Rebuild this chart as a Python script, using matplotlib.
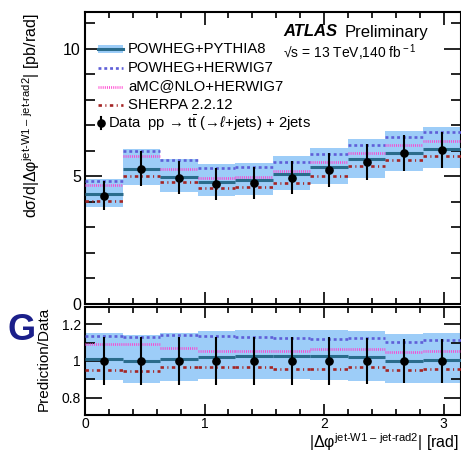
import matplotlib

matplotlib.use("Agg")
import matplotlib.pyplot as plt
from matplotlib.ticker import MultipleLocator
import numpy as np

# binning in |dphi| (10 equal bins from 0 to pi)
BIN_EDGES = np.linspace(0.0, np.pi, 11)

# measured cross-section [pb/rad] and relative uncertainty
DATA = [4.25, 5.31, 4.95, 4.70, 4.74, 4.96, 5.24, 5.56, 5.93, 6.05]
DATA_REL_ERR = [0.132, 0.132, 0.132, 0.132, 0.130, 0.128, 0.128, 0.125, 0.118, 0.118]

# prediction / data
RATIO_PP8 = [1.012, 0.998, 1.010, 1.020, 1.027, 1.027, 1.027, 1.022, 1.000, 1.005]
RATIO_PP8_HI = [1.150, 1.144, 1.150, 1.164, 1.168, 1.168, 1.168, 1.162, 1.146, 1.150]
RATIO_PP8_LO = [0.894, 0.880, 0.889, 0.901, 0.901, 0.901, 0.897, 0.890, 0.880, 0.880]
RATIO_PH7 = [1.137, 1.128, 1.140, 1.137, 1.132, 1.123, 1.119, 1.123, 1.101, 1.114]
RATIO_AMC = [1.094, 1.094, 1.072, 1.054, 1.054, 1.054, 1.063, 1.063, 1.050, 1.054]
RATIO_SHERPA = [0.950, 0.946, 0.970, 0.970, 0.970, 0.959, 0.959, 0.970, 0.950, 0.959]

LEGEND_LABELS = [
    "POWHEG+PYTHIA8",
    "POWHEG+HERWIG7",
    "aMC@NLO+HERWIG7",
    "SHERPA 2.2.12",
    "Data  pp → t$\\bar{\\rm t}$ (→$\\ell$+jets) + 2jets",
]

BAND_COLOR = "#9dcdf8"
PP8_COLOR = "#2a6c8c"
PH7_COLOR = "#5f5fd8"
AMC_COLOR = "#ff3fcf"
SHERPA_COLOR = "#a42424"

W, H = 461, 455

plt.rcParams.update(
    {
        "font.family": ["Liberation Sans", "DejaVu Sans"],
        "mathtext.fontset": "custom",
        "mathtext.rm": "Liberation Sans",
        "mathtext.it": "Liberation Sans:italic",
        "mathtext.bf": "Liberation Sans:bold",
        "axes.linewidth": 1.5,
    }
)


def fx(px):
    return px / W


def fy(py):
    return 1.0 - py / H


def style_axis(ax, ylen_major=9, ylen_minor=5, xlen_major=6, xlen_minor=3):
    ax.tick_params(which="both", direction="in", top=True, right=True, width=1.2)
    ax.tick_params(axis="y", which="major", length=ylen_major)
    ax.tick_params(axis="y", which="minor", length=ylen_minor)
    ax.tick_params(axis="x", which="major", length=xlen_major)
    ax.tick_params(axis="x", which="minor", length=xlen_minor)
    ax.xaxis.set_major_locator(MultipleLocator(1.0))
    ax.xaxis.set_minor_locator(MultipleLocator(0.2))
    ax.set_xlim(0.0, np.pi)


def draw_predictions(ax, scale):
    lo_edges = BIN_EDGES[:-1]
    hi_edges = BIN_EDGES[1:]
    ax.stairs(np.asarray(RATIO_PP8_HI) * scale, BIN_EDGES,
              baseline=np.asarray(RATIO_PP8_LO) * scale, fill=True,
              color=BAND_COLOR, linewidth=0, zorder=1)
    ax.hlines(np.asarray(RATIO_PP8) * scale, lo_edges, hi_edges,
              color=PP8_COLOR, linewidth=2.2, zorder=3)
    ax.hlines(np.asarray(RATIO_PH7) * scale, lo_edges, hi_edges,
              color=PH7_COLOR, linewidth=1.9, linestyles=[(0, (1.1, 1.1))], zorder=3)
    ax.hlines(np.asarray(RATIO_AMC) * scale, lo_edges, hi_edges,
              color=AMC_COLOR, linewidth=1.9, linestyles=[(0, (0.35, 0.45))], zorder=3)
    ax.hlines(np.asarray(RATIO_SHERPA) * scale, lo_edges, hi_edges,
              color=SHERPA_COLOR, linewidth=1.9, linestyles=[(0, (1.3, 1.3, 0.4, 1.3))], zorder=3)


fig = plt.figure(figsize=(W / 100, H / 100), dpi=100)

ax_top = fig.add_axes([fx(85), fy(304), fx(460.5) - fx(85), fy(12) - fy(304)])
ax_rat = fig.add_axes([fx(85), fy(415), fx(460.5) - fx(85), fy(307) - fy(415)])

centers = 0.5 * (BIN_EDGES[:-1] + BIN_EDGES[1:])
data = np.asarray(DATA)
data_err = data * np.asarray(DATA_REL_ERR)

# upper panel
draw_predictions(ax_top, data)
ax_top.errorbar(centers, data, yerr=data_err, fmt="o", color="black", markersize=5.2,
                elinewidth=1.5, capsize=0, zorder=5)
ax_top.set_ylim(0.0, 11.45)
ax_top.yaxis.set_major_locator(MultipleLocator(5))
ax_top.yaxis.set_minor_locator(MultipleLocator(1))
style_axis(ax_top, ylen_major=12, ylen_minor=7, xlen_major=9, xlen_minor=4.5)
ax_top.tick_params(axis="y", labelsize=11.5, pad=3)
ax_top.tick_params(axis="x", labelbottom=False)

# lower panel
draw_predictions(ax_rat, np.ones_like(data))
ax_rat.errorbar(centers, np.ones_like(data), yerr=np.asarray(DATA_REL_ERR), fmt="o",
                color="black", markersize=5.2, elinewidth=1.5, capsize=0, zorder=5)
ax_rat.set_ylim(0.706, 1.294)
ax_rat.yaxis.set_minor_locator(MultipleLocator(0.1))
ax_rat.set_yticks([0.8, 1.0, 1.2], ["0.8", "1", "1.2"])
style_axis(ax_rat, ylen_major=12, ylen_minor=7, xlen_major=8, xlen_minor=4)
ax_rat.tick_params(axis="y", labelsize=10, pad=3)
ax_rat.tick_params(axis="x", labelsize=10, pad=1.5)
ax_rat.set_xticks([0, 1, 2, 3], ["0", "1", "2", "3"])

# axis titles
SUPER = r"$^{\rm jet‐W1\ –\ jet‐rad2}$"
fig.text(fx(31), fy(13), "dσ/d|Δφ" + SUPER + "| [pb/rad]",
         rotation=90, ha="center", va="top", fontsize=11.5)
fig.text(fx(44), fy(307), "Prediction/Data", rotation=90, ha="center", va="top", fontsize=11)
fig.text(fx(459), fy(453), "|Δφ" + SUPER + "| [rad]",
         ha="right", va="bottom", fontsize=11.5)

# ATLAS label
fig.text(fx(283), fy(32), "ATLAS", fontsize=12, fontweight="bold", style="italic",
         ha="left", va="center")
fig.text(fx(345), fy(32), "Preliminary", fontsize=12, ha="left", va="center")
fig.text(fx(283), fy(53), "√s = 13 TeV,140 fb$^{\\rm -1}$", fontsize=10,
         ha="left", va="center")

# legend drawn by hand to mimic the ROOT layout
row_y = [49, 68, 86.5, 105, 123]
h0, h1, text_x = 98, 123, 128
fig.patches.append(plt.Rectangle((fx(h0), fy(row_y[0] + 4)), fx(h1) - fx(h0), fy(row_y[0] - 4) - fy(row_y[0] + 4),
                                 transform=fig.transFigure, color=BAND_COLOR, linewidth=0))
handle_styles = [
    dict(color=PP8_COLOR, linewidth=2.2, linestyle="-"),
    dict(color=PH7_COLOR, linewidth=1.9, linestyle=(0, (1.1, 1.1))),
    dict(color=AMC_COLOR, linewidth=1.9, linestyle=(0, (0.35, 0.45))),
    dict(color=SHERPA_COLOR, linewidth=1.9, linestyle=(0, (1.3, 1.3, 0.4, 1.3))),
]
for y, style, label in zip(row_y[:4], handle_styles, LEGEND_LABELS[:4]):
    fig.add_artist(plt.Line2D([fx(h0), fx(h1)], [fy(y), fy(y)], transform=fig.transFigure, **style))
    fig.text(fx(text_x), fy(y), label, fontsize=10.7, ha="left", va="center")
fig.add_artist(plt.Line2D([fx(100.5), fx(100.5)], [fy(row_y[4] - 6), fy(row_y[4] + 6)],
                          transform=fig.transFigure, color="black", linewidth=1.5))
fig.add_artist(plt.Line2D([fx(100.5)], [fy(row_y[4])], transform=fig.transFigure, color="black",
                          marker="o", markersize=5.2))
fig.text(fx(108), fy(row_y[4]), LEGEND_LABELS[4], fontsize=10.7, ha="left", va="center")

# fragment of a neighbouring logo at the left edge of the crop
fig.text(fx(36), fy(330), "G", fontsize=26, fontweight="bold", color="#1b1f8a",
         ha="right", va="center")

fig.savefig("out.png", dpi=100)
